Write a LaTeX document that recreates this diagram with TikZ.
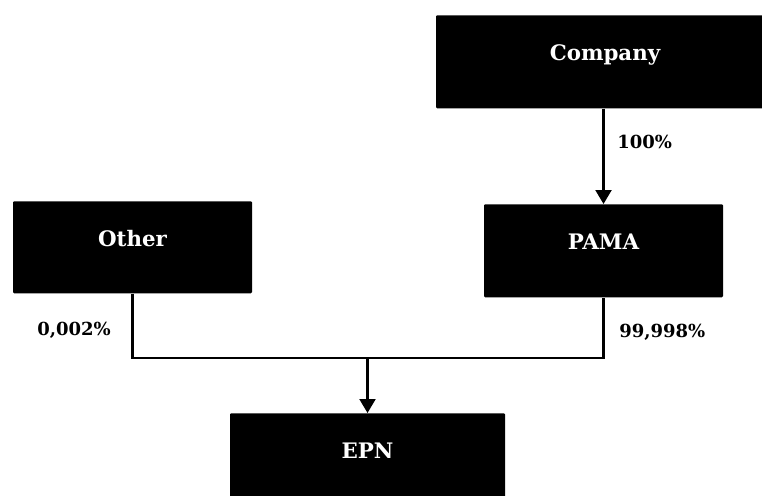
\documentclass[tikz,border=0pt]{standalone}
\usepackage{fontspec}
\setmainfont{DejaVu Serif}
\usetikzlibrary{arrows.meta}

% box and label styles
\tikzset{
    entity/.style={fill=black, rounded corners=0.8pt, anchor=north, inner xsep=0pt, inner ysep=0pt,
        text=white, font=\fontsize{16}{18}\selectfont\bfseries,
        text height=33.75pt, text depth=36pt},
    share/.style={font=\fontsize{13.5}{15}\selectfont\bfseries, inner sep=0pt},
    link/.style={line width=1.6pt, line join=miter},
}

\begin{document}
\begin{tikzpicture}[x=0.75pt, y=-0.75pt]

    % Fix the page to the size of the reference
    \useasboundingbox (0, 0) rectangle (762, 495);
    \clip (0, 0) rectangle (762, 495);

    % The four companies
    % Company runs past the right edge, EPN past the bottom edge
    \node[entity, minimum width=253.5pt] (company) at (605, 15) {Company};
    \node[entity, minimum width=179.25pt] (pama) at (603.5, 204) {PAMA};
    \node[entity, minimum width=179.25pt, text depth=35.25pt] (other) at (132.5, 201) {Other};
    \node[entity, minimum width=206.25pt] (epn) at (367.5, 413) {EPN};

    % Point where the two shareholdings meet
    \coordinate (join) at (epn.north |- 0, 358);

    % Company holds PAMA
    \draw[link, -{Triangle[width=12pt, length=10.5pt]}] (pama.north |- company.south) -- (pama.north);

    % Other and PAMA hold EPN
    \draw[link] (other.south) -- (other.south |- join) -- (pama.south |- join) -- (pama.south);
    \draw[link, -{Triangle[width=12pt, length=10.5pt]}] (join) -- (epn.north);

    % Share labels
    \node[share, anchor=west] (sh100) at (617, 142) {100\%};
    \node[share, anchor=east] (shother) at (111, 330) {0,002\%};
    \node[share, anchor=west] (shpama) at (619, 332) {99,998\%};

\end{tikzpicture}
\end{document}
